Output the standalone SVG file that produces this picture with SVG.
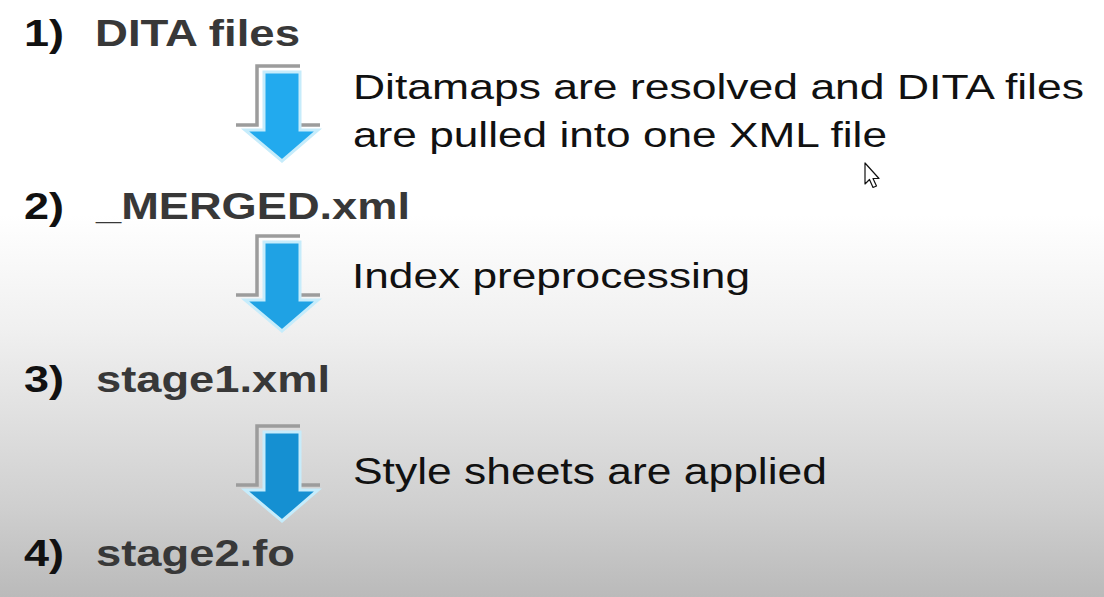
<svg xmlns="http://www.w3.org/2000/svg" xmlns:xlink="http://www.w3.org/1999/xlink" width="1104" height="597" viewBox="0 0 1104 597">
<style>
.num{font-family:"Liberation Sans",Arial,sans-serif;font-weight:bold;font-size:37px;fill:#111}
.name{font-family:"Liberation Sans",Arial,sans-serif;font-weight:bold;font-size:37px;fill:#383838}
.desc{font-family:"Liberation Sans",Arial,sans-serif;font-size:35px;fill:#111}
.shadow{fill:none;stroke:#9c9c9c;stroke-width:3.5}
.blue{stroke:#c6ecfb;stroke-width:3;stroke-linejoin:miter}
</style>
<defs>
<linearGradient id="bg" x1="0" y1="0" x2="0" y2="1">
<stop offset="0" stop-color="#ffffff"/>
<stop offset="0.36" stop-color="#ffffff"/>
<stop offset="0.55" stop-color="#f0f0f0"/>
<stop offset="0.70" stop-color="#e0e0e0"/>
<stop offset="0.85" stop-color="#cfcfcf"/>
<stop offset="1" stop-color="#bababa"/>
</linearGradient>
<g id="arrow">
<path class="shadow" d="M-28,53 H-7 V-6 H36 M36,53 H56"/>
<polygon class="blue" points="0,0 36,0 36,58 54,58 18,89 -19,58 0,58"/>
</g>
</defs>
<rect width="1104" height="597" fill="url(#bg)"/>

<g id="node1">
<text class="num" x="24" y="46" textLength="40" lengthAdjust="spacingAndGlyphs">1)</text>
<text class="name" x="95" y="46" textLength="205" lengthAdjust="spacingAndGlyphs">DITA files</text>
</g>
<g id="node2">
<text class="num" x="24" y="219" textLength="40" lengthAdjust="spacingAndGlyphs">2)</text>
<text class="name" x="96" y="219" textLength="314" lengthAdjust="spacingAndGlyphs">_MERGED.xml</text>
</g>
<g id="node3">
<text class="num" x="24" y="392" textLength="40" lengthAdjust="spacingAndGlyphs">3)</text>
<text class="name" x="96" y="392" textLength="234" lengthAdjust="spacingAndGlyphs">stage1.xml</text>
</g>
<g id="node4">
<text class="num" x="24" y="566" textLength="40" lengthAdjust="spacingAndGlyphs">4)</text>
<text class="name" x="96" y="566" textLength="199" lengthAdjust="spacingAndGlyphs">stage2.fo</text>
</g>

<g id="connectors">
<use xlink:href="#arrow" href="#arrow" x="264" y="72" fill="#22aaee"/>
<use xlink:href="#arrow" href="#arrow" x="264" y="242" fill="#1fa2e4"/>
<use xlink:href="#arrow" href="#arrow" x="264" y="432" fill="#1590d2"/>
<text class="desc" x="353" y="99" textLength="731" lengthAdjust="spacingAndGlyphs">Ditamaps are resolved and DITA files</text>
<text class="desc" x="353" y="147" textLength="534" lengthAdjust="spacingAndGlyphs">are pulled into one XML file</text>
<text class="desc" x="352" y="288" textLength="398" lengthAdjust="spacingAndGlyphs">Index preprocessing</text>
<text class="desc" x="353" y="484" textLength="474" lengthAdjust="spacingAndGlyphs" style="font-size:36px">Style sheets are applied</text>
</g>

<path d="M865,163 L865,184 L869.5,179.5 L873,187.5 L876.5,186 L873,178.5 L879,178.5 Z" fill="#fff" stroke="#111" stroke-width="1.2" stroke-linejoin="round"/>
</svg>
